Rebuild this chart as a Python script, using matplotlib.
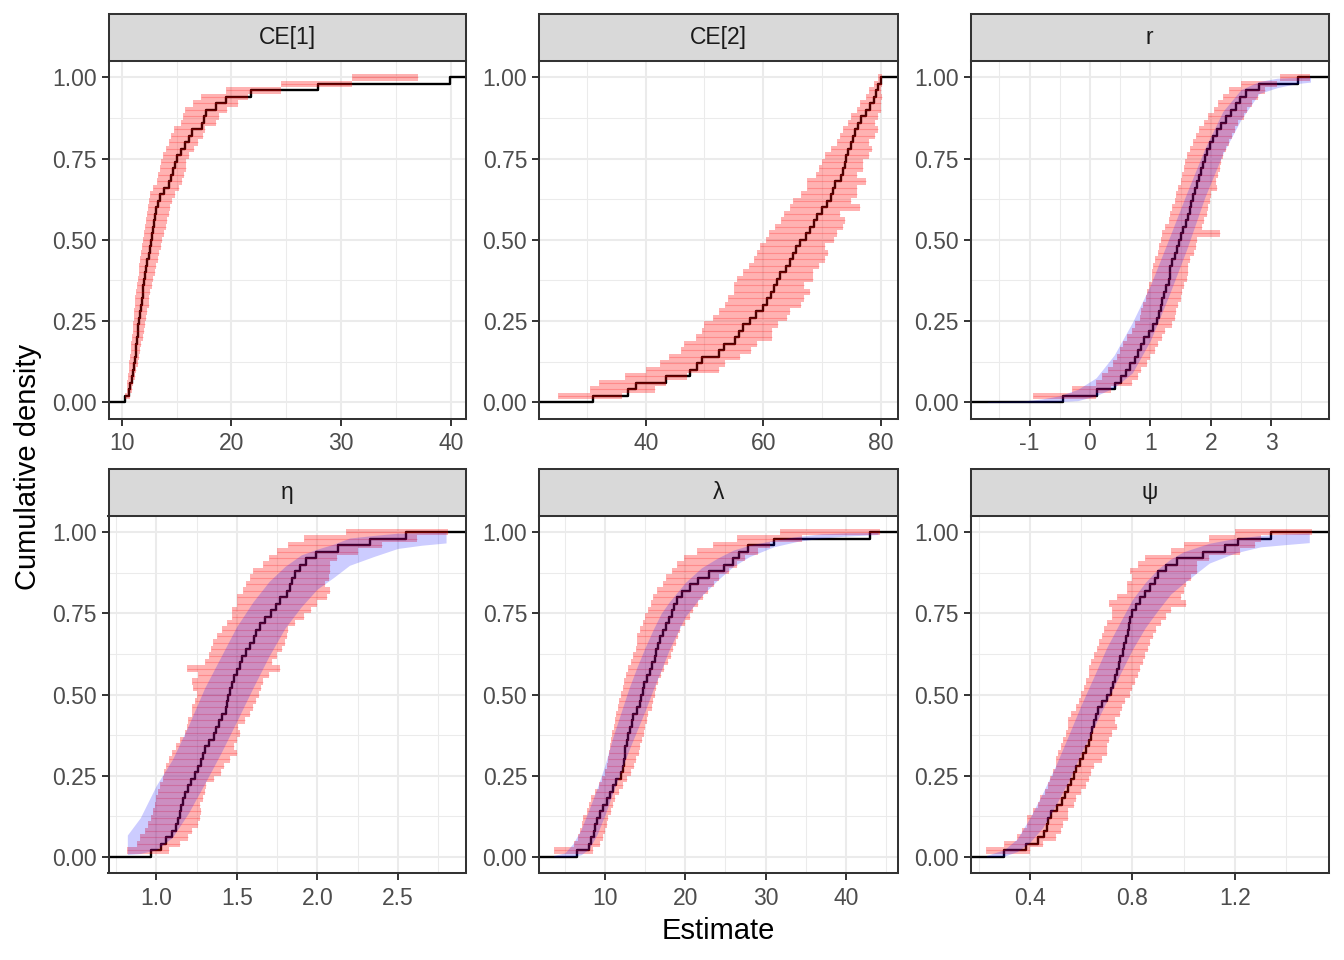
import numpy as np
import matplotlib
matplotlib.use("Agg")
import matplotlib.pyplot as plt
from matplotlib.ticker import FixedLocator

plt.rcParams['font.family'] = ['Liberation Sans', 'DejaVu Sans']

# ---------------- data ----------------
panel_names = ['CE[1]', 'CE[2]', 'r', 'η', 'λ', 'ψ']

ce1_est = [10.3, 10.65, 10.78, 10.9, 11.0, 11.1, 11.18, 11.27, 11.35, 11.4,
           11.46, 11.52, 11.6, 11.7, 11.77, 11.84, 11.91, 11.98, 12.06, 12.15,
           12.25, 12.35, 12.47, 12.6, 12.7, 12.8, 12.88, 12.97, 13.05, 13.12,
           13.3, 13.5, 13.9, 14.3, 14.5, 14.7, 14.85, 15.0, 15.4, 15.8,
           16.1, 16.4, 17.35, 17.5, 17.7, 18.6, 19.5, 21.8, 27.9, 39.9]
ce1_lo = [10.3, 10.45, 10.5, 10.6, 10.65, 10.7, 10.8, 10.85, 10.85, 10.95,
          11.0, 11.05, 11.1, 11.15, 11.2, 11.25, 11.3, 11.4, 11.45, 11.55,
          11.6, 11.7, 11.8, 11.85, 11.95, 12.0, 12.1, 12.2, 12.3, 12.4,
          12.5, 12.6, 12.9, 13.2, 13.3, 13.5, 13.6, 13.8, 14.0, 14.3,
          14.5, 14.8, 15.4, 15.6, 15.8, 16.5, 17.2, 19.5, 24.5, 31.0]
ce1_hi = [10.75, 10.9, 11.05, 11.2, 11.3, 11.45, 11.55, 11.65, 11.8, 11.9,
          12.0, 12.1, 12.25, 12.35, 12.45, 12.5, 12.6, 12.75, 12.85, 13.0,
          13.1, 13.3, 13.4, 13.55, 13.7, 13.85, 14.0, 14.1, 14.3, 14.4,
          14.6, 14.9, 15.2, 15.5, 15.7, 15.9, 15.9, 16.1, 16.6, 17.0,
          17.4, 17.6, 18.6, 18.9, 19.6, 20.6, 21.5, 24.5, 31.0, 37.0]

ce2_est = [31.0, 37.0, 38.4, 43.5, 47.5, 48.7, 49.5, 52.5, 53.3, 55.2,
           55.9, 56.6, 57.8, 58.8, 59.9, 60.6, 61.4, 61.9, 62.3, 62.8,
           63.8, 64.5, 65.0, 65.6, 66.3, 67.2, 67.9, 68.6, 69.2, 70.0,
           70.8, 71.6, 71.9, 72.3, 73.2, 73.6, 73.9, 74.1, 74.5, 75.0,
           75.3, 75.7, 76.1, 76.7, 77.5, 78.2, 78.8, 79.2, 79.6, 80.0]
ce2_lo = [25.0, 30.5, 32.0, 36.5, 40.0, 42.5, 44.0, 46.0, 46.5, 48.5,
          49.5, 50.0, 51.5, 52.5, 53.5, 54.0, 55.0, 55.0, 55.5, 56.5,
          57.5, 58.5, 59.0, 59.5, 60.5, 61.0, 62.0, 63.0, 63.5, 64.5,
          65.0, 66.5, 67.5, 67.5, 69.0, 69.5, 70.0, 70.5, 71.5, 72.5,
          73.0, 73.5, 74.5, 75.0, 76.0, 76.5, 77.5, 78.0, 78.8, 79.5]
ce2_hi = [36.0, 41.5, 43.5, 47.0, 52.5, 53.5, 56.0, 58.0, 59.0, 61.5,
          61.5, 62.5, 64.0, 64.5, 66.5, 67.0, 68.0, 67.0, 68.5, 68.5,
          69.5, 70.5, 71.0, 70.5, 72.0, 72.5, 73.5, 74.0, 73.0, 76.5,
          75.0, 76.0, 76.0, 77.5, 76.0, 77.0, 77.0, 78.0, 78.5, 78.0,
          79.0, 79.5, 79.0, 79.5, 80.0, 80.0, 80.2, 80.0, 80.2, 80.2]

r_est = [-0.45, 0.11, 0.42, 0.52, 0.59, 0.67, 0.74, 0.79, 0.84, 0.9,
         0.97, 1.04, 1.11, 1.14, 1.17, 1.2, 1.22, 1.26, 1.3, 1.32,
         1.33, 1.35, 1.41, 1.44, 1.47, 1.5, 1.54, 1.59, 1.63, 1.66,
         1.68, 1.71, 1.74, 1.78, 1.81, 1.84, 1.87, 1.9, 1.94, 1.99,
         2.04, 2.1, 2.17, 2.25, 2.33, 2.41, 2.49, 2.58, 2.8, 3.45]
r_lo = [-0.95, -0.3, 0.1, 0.2, 0.3, 0.38, 0.45, 0.5, 0.55, 0.62,
        0.7, 0.75, 0.82, 0.85, 0.88, 0.92, 0.95, 0.98, 1.02, 1.03,
        1.05, 1.07, 1.12, 1.15, 1.18, 1.2, 1.25, 1.3, 1.33, 1.36,
        1.4, 1.42, 1.45, 1.5, 1.52, 1.55, 1.58, 1.6, 1.65, 1.7,
        1.75, 1.8, 1.88, 1.95, 2.05, 2.12, 2.2, 2.3, 2.5, 3.15]
r_hi = [0.1, 0.35, 0.7, 0.8, 0.85, 0.95, 1.0, 1.08, 1.12, 1.2,
        1.25, 1.35, 1.4, 1.42, 1.45, 1.5, 1.52, 1.56, 1.6, 1.62,
        1.62, 1.65, 1.72, 1.75, 1.78, 2.15, 1.85, 1.88, 1.93, 1.95,
        1.98, 2.0, 2.1, 2.08, 2.12, 2.15, 2.17, 2.2, 2.25, 2.3,
        2.35, 2.4, 2.45, 2.55, 2.6, 2.68, 2.78, 2.9, 3.1, 3.65]

eta_est = [0.97, 1.03, 1.062, 1.1, 1.125, 1.135, 1.145, 1.155, 1.165, 1.178,
           1.195, 1.218, 1.24, 1.26, 1.278, 1.288, 1.3, 1.33, 1.358, 1.372,
           1.39, 1.41, 1.43, 1.44, 1.448, 1.458, 1.468, 1.482, 1.5, 1.52,
           1.533, 1.555, 1.585, 1.605, 1.62, 1.645, 1.678, 1.715, 1.745, 1.77,
           1.81, 1.83, 1.845, 1.86, 1.892, 1.93, 1.99, 2.13, 2.33, 2.55]
eta_lo = [0.82, 0.88, 0.9, 0.93, 0.95, 0.97, 0.98, 0.99, 1.0, 1.01,
          1.02, 1.04, 1.05, 1.06, 1.08, 1.1, 1.12, 1.15, 1.18, 1.19,
          1.2, 1.22, 1.22, 1.24, 1.25, 1.23, 1.22, 1.26, 1.19, 1.3,
          1.33, 1.34, 1.35, 1.38, 1.41, 1.44, 1.47, 1.47, 1.5, 1.5,
          1.54, 1.56, 1.58, 1.6, 1.66, 1.7, 1.75, 1.82, 1.92, 2.18]
eta_hi = [1.08, 1.15, 1.2, 1.22, 1.26, 1.27, 1.28, 1.27, 1.29, 1.3,
          1.31, 1.36, 1.4, 1.42, 1.46, 1.5, 1.48, 1.5, 1.52, 1.51,
          1.55, 1.58, 1.6, 1.62, 1.64, 1.65, 1.66, 1.7, 1.77, 1.72,
          1.75, 1.78, 1.8, 1.81, 1.82, 1.86, 1.92, 1.96, 2.0, 2.06,
          2.08, 2.05, 2.07, 2.08, 2.08, 2.12, 2.25, 2.4, 2.62, 2.81]

lam_est = [6.5, 7.95, 8.2, 8.6, 8.8, 8.95, 9.4, 9.8, 10.2, 10.6,
           11.0, 11.4, 11.95, 12.2, 12.35, 12.45, 12.55, 12.68, 12.9, 13.15,
           13.35, 13.55, 13.95, 14.3, 14.5, 14.7, 14.9, 15.2, 15.55, 15.9,
           16.2, 16.4, 16.6, 16.85, 17.2, 17.6, 18.0, 18.35, 18.6, 18.95,
           19.6, 20.6, 21.6, 23.0, 24.8, 25.9, 26.7, 27.8, 31.0, 43.0]
lam_lo = [3.6, 6.2, 6.6, 6.9, 7.1, 7.3, 7.7, 8.0, 8.3, 8.7,
          9.2, 9.6, 10.0, 10.3, 10.4, 10.5, 10.6, 10.7, 10.9, 11.1,
          11.2, 11.4, 11.6, 11.8, 12.0, 12.2, 12.4, 12.6, 12.9, 13.2,
          13.5, 13.9, 14.0, 14.0, 14.3, 14.7, 15.0, 15.3, 15.7, 16.0,
          16.5, 17.2, 17.6, 18.3, 19.0, 19.8, 21.5, 23.5, 26.5, 31.8]
lam_hi = [8.5, 9.4, 9.8, 10.0, 10.2, 10.4, 10.8, 11.0, 11.3, 11.8,
          12.3, 12.8, 13.3, 13.6, 13.9, 14.2, 14.4, 14.6, 14.9, 15.0,
          15.2, 15.4, 15.8, 16.0, 16.2, 16.4, 16.6, 17.0, 17.3, 17.8,
          18.2, 18.5, 18.8, 19.1, 19.4, 20.0, 20.6, 21.0, 21.6, 22.2,
          22.8, 23.6, 24.2, 25.4, 26.5, 27.4, 29.0, 30.5, 34.5, 44.2]

psi_est = [0.3, 0.385, 0.43, 0.455, 0.465, 0.47, 0.482, 0.505, 0.525, 0.537,
           0.55, 0.56, 0.57, 0.58, 0.595, 0.607, 0.618, 0.63, 0.638, 0.644,
           0.648, 0.657, 0.665, 0.68, 0.7, 0.715, 0.723, 0.731, 0.74, 0.747,
           0.75, 0.762, 0.768, 0.773, 0.782, 0.787, 0.791, 0.8, 0.815, 0.83,
           0.848, 0.868, 0.887, 0.9, 0.93, 0.975, 1.075, 1.16, 1.21, 1.34]
psi_lo = [0.23, 0.3, 0.35, 0.37, 0.39, 0.39, 0.41, 0.43, 0.44, 0.46,
          0.47, 0.48, 0.49, 0.5, 0.5, 0.51, 0.52, 0.53, 0.54, 0.55,
          0.55, 0.56, 0.58, 0.59, 0.6, 0.61, 0.62, 0.63, 0.63, 0.64,
          0.65, 0.66, 0.67, 0.68, 0.69, 0.7, 0.72, 0.72, 0.71, 0.74,
          0.78, 0.78, 0.8, 0.79, 0.82, 0.85, 0.95, 1.0, 1.1, 1.2]
psi_hi = [0.4, 0.45, 0.5, 0.52, 0.53, 0.55, 0.55, 0.57, 0.58, 0.6,
          0.62, 0.63, 0.64, 0.65, 0.68, 0.7, 0.7, 0.71, 0.72, 0.74,
          0.73, 0.75, 0.76, 0.77, 0.79, 0.8, 0.81, 0.82, 0.83, 0.84,
          0.85, 0.86, 0.87, 0.88, 0.89, 0.91, 0.93, 0.95, 1.01, 0.99,
          1.0, 1.01, 1.03, 1.05, 1.05, 1.1, 1.22, 1.28, 1.3, 1.5]

# theoretical CDF bands (x grid, lower and upper cumulative density)
r_rib_x = [-1.7, -1.1, -0.8, -0.5, -0.2, 0.1, 0.4, 0.7, 1.0, 1.3, 1.6, 1.9,
           2.2, 2.5, 2.8, 3.1, 3.4, 3.65]
r_rib_lo = [0.0, 0.0, 0.0, 0.002, 0.005, 0.02, 0.045, 0.09, 0.19, 0.325, 0.47,
            0.63, 0.765, 0.87, 0.95, 0.968, 0.98, 0.985]
r_rib_hi = [0.002, 0.004, 0.01, 0.02, 0.04, 0.075, 0.145, 0.245, 0.36, 0.5,
            0.643, 0.78, 0.895, 0.962, 0.987, 0.997, 0.999, 1.0]

eta_rib_x = [0.82, 0.9, 1.0, 1.1, 1.2, 1.3, 1.4, 1.5, 1.6, 1.7, 1.8, 1.9,
             2.0, 2.1, 2.2, 2.35, 2.5, 2.65, 2.8]
eta_rib_lo = [0.007, 0.01, 0.022, 0.06, 0.135, 0.225, 0.318, 0.418, 0.52,
              0.618, 0.705, 0.77, 0.825, 0.86, 0.898, 0.925, 0.95, 0.96, 0.967]
eta_rib_hi = [0.067, 0.12, 0.22, 0.30, 0.405, 0.52, 0.615, 0.71, 0.785,
              0.848, 0.895, 0.93, 0.948, 0.963, 0.982, 0.99, 0.997, 0.998, 0.999]

lam_rib_x = [3.6, 5, 6, 7, 8, 9, 10, 11, 12, 13, 14, 15, 16, 17, 18, 20, 22,
             24, 26, 28, 31, 34, 37, 40, 44]
lam_rib_lo = [0.0, 0.0, 0.001, 0.006, 0.024, 0.068, 0.129, 0.2, 0.265, 0.33,
              0.39, 0.45, 0.515, 0.575, 0.638, 0.74, 0.803, 0.852, 0.895,
              0.925, 0.955, 0.972, 0.982, 0.988, 0.993]
lam_rib_hi = [0.004, 0.012, 0.04, 0.083, 0.145, 0.21, 0.283, 0.37, 0.445,
              0.52, 0.585, 0.645, 0.70, 0.75, 0.785, 0.845, 0.89, 0.92, 0.945,
              0.96, 0.975, 0.987, 0.995, 0.998, 0.999]

psi_rib_x = [0.23, 0.3, 0.35, 0.4, 0.45, 0.5, 0.55, 0.6, 0.65, 0.7, 0.75,
             0.8, 0.85, 0.9, 0.95, 1.0, 1.1, 1.2, 1.3, 1.4, 1.49]
psi_rib_lo = [0.0, 0.002, 0.016, 0.045, 0.09, 0.158, 0.232, 0.32, 0.4, 0.48,
              0.56, 0.639, 0.706, 0.76, 0.81, 0.843, 0.905, 0.936, 0.955,
              0.962, 0.968]
psi_rib_hi = [0.004, 0.022, 0.055, 0.12, 0.197, 0.28, 0.373, 0.468, 0.556,
              0.645, 0.72, 0.793, 0.845, 0.887, 0.918, 0.94, 0.966, 0.981,
              0.99, 0.995, 0.997]

x_breaks = {
    'CE[1]': [10, 20, 30, 40],
    'CE[2]': [40, 60, 80],
    'r': [-1, 0, 1, 2, 3],
    'η': [1.0, 1.5, 2.0, 2.5],
    'λ': [10, 20, 30, 40],
    'ψ': [0.4, 0.8, 1.2],
}
x_labels = {
    'CE[1]': ['10', '20', '30', '40'],
    'CE[2]': ['40', '60', '80'],
    'r': ['-1', '0', '1', '2', '3'],
    'η': ['1.0', '1.5', '2.0', '2.5'],
    'λ': ['10', '20', '30', '40'],
    'ψ': ['0.4', '0.8', '1.2'],
}
x_limits = {
    'CE[1]': (8.80, 41.39),
    'CE[2]': (21.84, 82.94),
    'r': (-1.978, 3.957),
    'η': (0.703, 2.924),
    'λ': (1.78, 46.5),
    'ψ': (0.168, 1.567),
}
y_breaks = [0.0, 0.25, 0.5, 0.75, 1.0]
y_labels = ['0.00', '0.25', '0.50', '0.75', '1.00']

series = {
    'CE[1]': (ce1_est, ce1_lo, ce1_hi, None),
    'CE[2]': (ce2_est, ce2_lo, ce2_hi, None),
    'r': (r_est, r_lo, r_hi, (r_rib_x, r_rib_lo, r_rib_hi)),
    'η': (eta_est, eta_lo, eta_hi, (eta_rib_x, eta_rib_lo, eta_rib_hi)),
    'λ': (lam_est, lam_lo, lam_hi, (lam_rib_x, lam_rib_lo, lam_rib_hi)),
    'ψ': (psi_est, psi_lo, psi_hi, (psi_rib_x, psi_rib_lo, psi_rib_hi)),
}

# ---------------- layout ----------------
W, H = 1344, 960
fig = plt.figure(figsize=(W / 100, H / 100), dpi=100)

def rect(l, t, r, b):
    return [l / W, 1 - b / H, (r - l) / W, (b - t) / H]

cols = [(108.5, 466.0), (539.0, 898.0), (970.5, 1329.0)]
rows = [(14.5, 61.0, 418.5), (469.5, 516.0, 873.0)]

GRID = '#EBEBEB'
DARK = '#333333'

def minor_from(majors, lim):
    step = majors[1] - majors[0]
    ext = [majors[0] - step] + list(majors) + [majors[-1] + step]
    mids = [(a + b) / 2 for a, b in zip(ext[:-1], ext[1:])]
    return [m for m in mids if lim[0] <= m <= lim[1]]

for k, name in enumerate(panel_names):
    ri, ci = divmod(k, 3)
    l, r = cols[ci]
    st, pt, pb = rows[ri]

    ax = fig.add_axes(rect(l, pt, r, pb))
    sax = fig.add_axes(rect(l, st, r, pt))

    est, lo, hi, rib = series[name]
    n = len(est)
    F = np.arange(1, n + 1) / n
    xl, xr = x_limits[name]

    ax.set_xlim(xl, xr)
    ax.set_ylim(-0.05, 1.05)

    # grid
    for v in minor_from(x_breaks[name], (xl, xr)):
        ax.axvline(v, color=GRID, lw=0.75, zorder=0)
    for v in [0.125, 0.375, 0.625, 0.875]:
        ax.axhline(v, color=GRID, lw=0.75, zorder=0)
    for v in x_breaks[name]:
        ax.axvline(v, color=GRID, lw=1.45, zorder=0.5)
    for v in y_breaks:
        ax.axhline(v, color=GRID, lw=1.45, zorder=0.5)

    # ECDF step line
    xs = [xl] + list(est) + [xr]
    ys = [0.0] + list(F) + [1.0]
    ax.step(xs, ys, where='post', color='black', lw=1.7, zorder=2)

    # horizontal error bars
    lo_a = np.array(lo)
    hi_a = np.array(hi)
    ax.barh(F, hi_a - lo_a, left=lo_a, height=1.0 / n, color='red',
            alpha=0.3, lw=0, zorder=3)
    ax.hlines(F, lo_a, hi_a, color='red', alpha=0.22, lw=0.8, zorder=3.1)

    # theoretical band
    if rib is not None:
        rx, rlo, rhi = rib
        ax.fill_between(rx, rlo, rhi, color='blue', alpha=0.2, lw=0,
                        zorder=4)

    ax.xaxis.set_major_locator(FixedLocator(x_breaks[name]))
    ax.set_xticklabels(x_labels[name])
    ax.yaxis.set_major_locator(FixedLocator(y_breaks))
    ax.set_yticklabels(y_labels)
    ax.tick_params(axis='both', which='major', length=5, width=1.4,
                   color=DARK, labelsize=16.5, labelcolor='#4D4D4D', pad=3.5)
    ax.tick_params(axis='x', pad=5)
    for sp in ax.spines.values():
        sp.set_color(DARK)
        sp.set_linewidth(1.45)
        sp.set_zorder(6)
    ax.set_facecolor('white')

    # strip
    sax.set_facecolor('#D9D9D9')
    sax.set_xticks([])
    sax.set_yticks([])
    for sp in sax.spines.values():
        sp.set_color(DARK)
        sp.set_linewidth(1.45)
    sax.text(0.5, 0.5, name, ha='center', va='center', fontsize=16.5,
             color='#1A1A1A', transform=sax.transAxes)

fig.text(28 / W, 1 - 467 / H, 'Cumulative density', rotation=90,
         ha='center', va='center', fontsize=21, color='black')
fig.text(718 / W, 1 - 931 / H, 'Estimate', ha='center', va='center',
         fontsize=21, color='black')

fig.savefig('out.png', dpi=100, facecolor='white')
